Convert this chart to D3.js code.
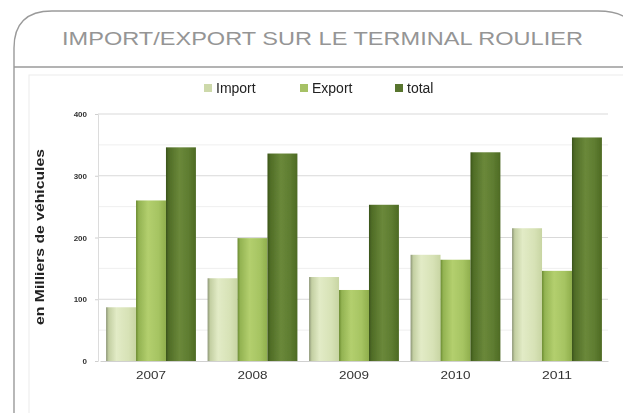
<!DOCTYPE html>
<html>
<head>
<meta charset="utf-8">
<script src="https://cdn.jsdelivr.net/npm/d3@7/dist/d3.min.js"></script>
<style>
  html, body { margin: 0; padding: 0; background: #fff; }
  svg { display: block; }
</style>
</head>
<body>
<svg id="chart" width="623" height="413"></svg>
<script>
// Years and series (thousands of vehicles)
const years = ["2007", "2008", "2009", "2010", "2011"];
const seriesNames = ["Import", "Export", "total"];
const importValues = [87, 134, 136, 172, 215];
const exportValues = [260, 199, 115, 164, 146];
const totalValues = [346, 336, 253, 338, 362];
const yTicks = [0, 100, 200, 300, 400];
const yGrid = [50, 100, 150, 200, 250, 300, 350, 400];

const title = "IMPORT/EXPORT SUR LE TERMINAL ROULIER";
const yTitle = "en Milliers de véhicules";

const values = [importValues, exportValues, totalValues];

const svg = d3.select("#chart");
const defs = svg.append("defs");

// Soft focus for the chart body
defs.append("filter").attr("id", "soft")
  .attr("x", "-5%").attr("y", "-5%").attr("width", "110%").attr("height", "110%")
  .append("feGaussianBlur").attr("stdDeviation", 0.6);

// Cylinder-like horizontal shading per series
const gradStops = [
  [["0%", "#8c9576"], ["9%", "#c3cfa2"], ["35%", "#e2ebc6"], ["75%", "#d7e2b6"], ["100%", "#c8d5a3"]],
  [["0%", "#6a8a30"], ["9%", "#93b352"], ["40%", "#b3cf6e"], ["75%", "#a6c462"], ["100%", "#8fae4c"]],
  [["0%", "#3a531a"], ["9%", "#4f6c26"], ["45%", "#6a883a"], ["75%", "#5f7d31"], ["100%", "#4d6a24"]]
];
gradStops.forEach((stops, i) => {
  const g = defs.append("linearGradient").attr("id", "grad" + i)
    .attr("x1", "0").attr("x2", "1").attr("y1", "0").attr("y2", "0");
  stops.forEach(([o, c]) => g.append("stop").attr("offset", o).attr("stop-color", c));
});
const swatchColors = ["#cdd9aa", "#a6c165", "#58742f"];

// Rounded frame and title band
const frame = svg.append("g");
frame.append("path")
  .attr("d", "M14,413 L14,48 Q14,11 52,11 L598,11 Q628,11 636,30")
  .attr("fill", "none").attr("stroke", "#9a9a9a").attr("stroke-width", 1.4);
frame.append("line")
  .attr("x1", 14).attr("x2", 623).attr("y1", 67).attr("y2", 67)
  .attr("stroke", "#9a9a9a").attr("stroke-width", 1.4);

// Title: wide lettering stretched horizontally to span the band
const titleG = frame.append("g");
const titleText = titleG.append("text")
  .attr("x", 0).attr("y", 0)
  .attr("font-family", "'Liberation Sans', Arial, sans-serif")
  .attr("font-size", 17.5)
  .attr("fill", "#959595")
  .text(title);
const natural = titleText.node().getComputedTextLength();
const titleWidth = 521;
titleG.attr("transform", `translate(62,45) scale(${titleWidth / natural},1)`);

const chart = svg.append("g").attr("filter", "url(#soft)");

// Light outer border of the chart object
chart.append("rect")
  .attr("x", 29).attr("y", 75).attr("width", 600).attr("height", 350)
  .attr("fill", "none").attr("stroke", "#ececec").attr("stroke-width", 1);

const x = d3.scaleBand().domain(years).range([100, 608])
  .paddingInner(0.115).paddingOuter(0.06);
const xi = d3.scaleBand().domain(seriesNames).range([0, x.bandwidth()]).padding(0);
const y = d3.scaleLinear().domain([0, 400]).range([361, 114]);

// Gridlines
chart.append("g").selectAll("line").data(yGrid).join("line")
  .attr("x1", 98).attr("x2", 608)
  .attr("y1", d => y(d)).attr("y2", d => y(d))
  .attr("stroke", d => d % 100 === 0 ? "#d9d9d9" : "#efefef")
  .attr("stroke-width", 1);

// Y axis
const yAxis = chart.append("g").attr("transform", "translate(98,0)")
  .call(d3.axisLeft(y).tickValues(yTicks).tickSize(3).tickPadding(8));
yAxis.select(".domain").attr("stroke", "#dcdcdc");
yAxis.selectAll(".tick line").attr("stroke", "#cfcfcf");
yAxis.selectAll("text")
  .attr("font-family", "'Liberation Sans', Arial, sans-serif")
  .attr("font-size", 8).attr("font-weight", "bold").attr("fill", "#333");

// X axis
const xAxis = chart.append("g").attr("transform", "translate(0,361)")
  .call(d3.axisBottom(x).tickSize(0).tickPadding(10));
xAxis.select(".domain").attr("stroke", "#d0d0d0");
xAxis.selectAll("text")
  .attr("font-family", "'Liberation Sans', Arial, sans-serif")
  .attr("font-size", 11).attr("fill", "#333")
  .attr("textLength", 30).attr("lengthAdjust", "spacingAndGlyphs");

// Y axis title
chart.append("text")
  .attr("transform", "translate(44,237) rotate(-90)")
  .attr("text-anchor", "middle")
  .attr("font-family", "'Liberation Sans', Arial, sans-serif")
  .attr("font-size", 12).attr("font-weight", "bold").attr("fill", "#222")
  .attr("textLength", 176).attr("lengthAdjust", "spacingAndGlyphs")
  .text(yTitle);

// Bars
const rows = years.map((yr, i) => ({ year: yr, vals: seriesNames.map((s, j) => ({ s, j, v: values[j][i] })) }));
chart.append("g").selectAll("g").data(rows).join("g")
  .attr("transform", d => `translate(${x(d.year)},0)`)
  .selectAll("rect").data(d => d.vals).join("rect")
  .attr("x", d => xi(d.s))
  .attr("width", xi.bandwidth())
  .attr("y", d => y(d.v))
  .attr("height", d => y(0) - y(d.v))
  .attr("fill", d => `url(#grad${d.j})`);

// Legend
const legendX = [204, 300, 395];
const legend = chart.append("g").selectAll("g").data(seriesNames).join("g")
  .attr("transform", (d, i) => `translate(${legendX[i]},88)`);
legend.append("rect")
  .attr("x", 0).attr("y", -4).attr("width", 8).attr("height", 8)
  .attr("fill", (d, i) => swatchColors[i]);
legend.append("text")
  .attr("x", 12).attr("y", 5)
  .attr("font-family", "'Liberation Sans', Arial, sans-serif")
  .attr("font-size", 14).attr("fill", "#222")
  .text(d => d);
</script>
</body>
</html>
